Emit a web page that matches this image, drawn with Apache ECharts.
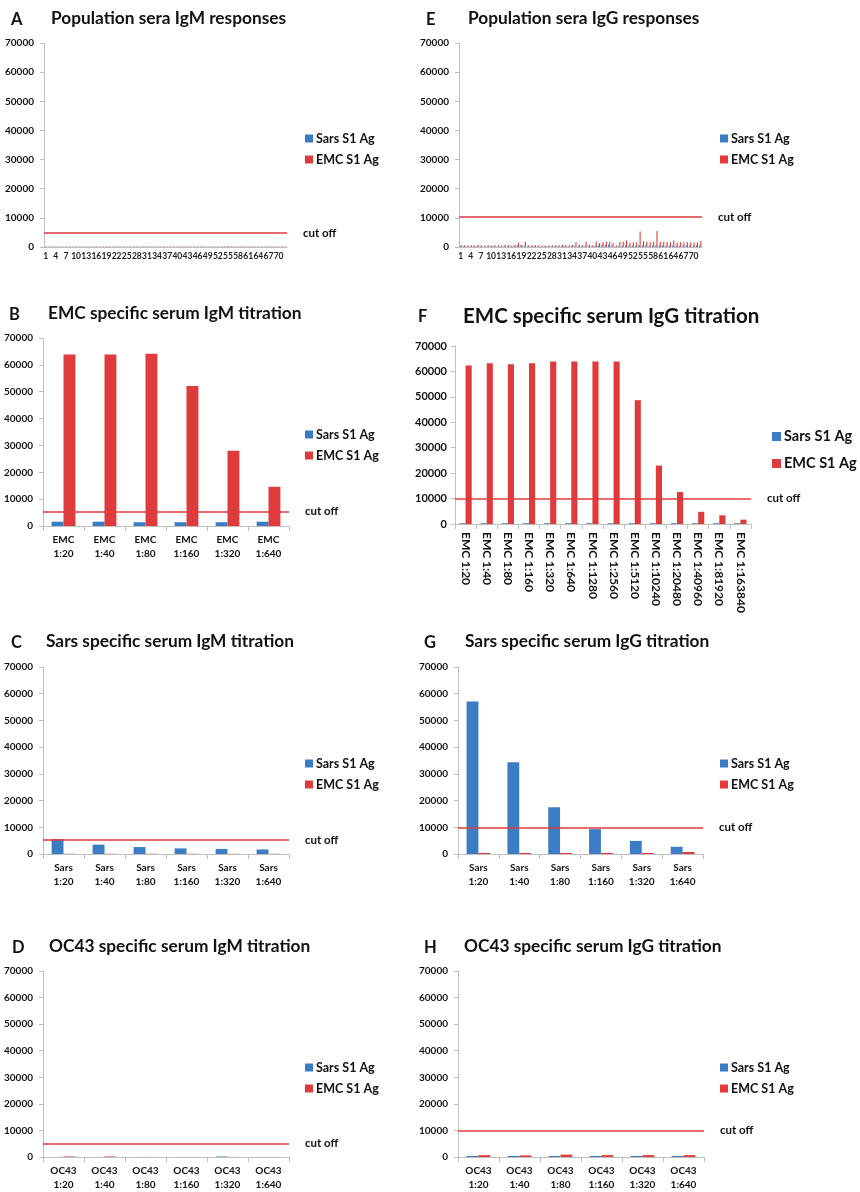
<!DOCTYPE html>
<html>
<head>
<meta charset="utf-8">
<script src="https://cdn.jsdelivr.net/npm/echarts@6/dist/echarts.min.js"></script>
<style>
  html, body { margin: 0; padding: 0; background: #fff; }
  #chart { width: 860px; height: 1192px; }
</style>
</head>
<body>
<div id="chart"></div>
<script>
// population sera, 72 samples
var popCats = ['1','2','3','4','5','6','7','8','9','10','11','12','13','14','15','16','17','18',
  '19','20','21','22','23','24','25','26','27','28','29','30','31','32','33','34','35','36',
  '37','38','39','40','41','42','43','44','45','46','47','48','49','50','51','52','53','54',
  '55','56','57','58','59','60','61','62','63','64','65','66','67','68','69','70','71','72'];

var igmPopSars = [150,120,150,130,140,120,150,130,120,140,150,130,120,140,130,150,120,140,
  130,150,120,140,130,150,120,140,130,150,120,140,130,150,120,140,130,150,
  120,140,130,150,120,140,130,150,120,140,130,150,120,140,130,150,120,140,
  130,150,120,140,130,150,120,140,130,150,120,140,130,150,120,140,130,150];
var igmPopEmc = [200,180,160,200,190,170,200,180,160,200,190,170,200,180,160,200,190,170,
  200,180,160,200,190,170,200,180,160,200,190,170,200,180,160,200,190,170,
  200,180,160,200,190,170,200,180,160,200,190,170,200,180,160,200,190,170,
  200,180,160,200,190,170,200,180,160,200,190,170,200,180,160,200,190,170];

var iggPopSars = [300,250,300,200,250,300,250,200,300,250,300,200,250,300,300,250,400,600,
  700,300,250,300,250,300,200,250,300,200,300,250,300,250,300,300,400,300,
  250,400,300,300,500,600,800,700,900,600,200,400,500,600,500,400,500,700,
  500,600,400,500,800,500,600,500,400,600,500,400,500,600,500,400,500,600];
var iggPopEmc = [700,600,500,600,500,800,500,500,600,500,700,600,500,900,600,500,700,1500,
  700,1800,600,700,600,600,500,400,500,600,700,600,800,700,600,700,1600,900,
  700,1800,800,600,1900,1400,1700,1900,1800,1500,500,1700,1800,2200,1500,1600,1600,5300,
  2000,1800,1700,1800,5500,1700,1800,1800,1600,2200,1500,1600,1600,1700,1600,1500,1600,2100];

// titration series
var emcIgmCats = ['EMC\n1:20','EMC\n1:40','EMC\n1:80','EMC\n1:160','EMC\n1:320','EMC\n1:640'];
var emcIgmSars = [1600,1600,1400,1400,1400,1600];
var emcIgmEmc = [63900,63900,64100,52100,28000,14600];

var emcIggCats = ['EMC 1:20','EMC 1:40','EMC 1:80','EMC 1:160','EMC 1:320','EMC 1:640','EMC 1:1280',
  'EMC 1:2560','EMC 1:5120','EMC 1:10240','EMC 1:20480','EMC 1:40960','EMC 1:81920','EMC 1:163840'];
var emcIggSars = [300,300,300,300,300,300,300,300,300,300,300,300,300,300];
var emcIggEmc = [62300,63200,62800,63200,63900,63900,63900,63900,48700,23000,12600,4800,3400,1700];

var sarsCats = ['Sars\n1:20','Sars\n1:40','Sars\n1:80','Sars\n1:160','Sars\n1:320','Sars\n1:640'];
var sarsIgmSars = [5600,3500,2600,2100,1900,1700];
var sarsIgmEmc = [80,80,80,80,80,80];
var sarsIggSars = [57100,34300,17500,9300,4900,2700];
var sarsIggEmc = [400,400,400,400,400,750];

var oc43Cats = ['OC43\n1:20','OC43\n1:40','OC43\n1:80','OC43\n1:160','OC43\n1:320','OC43\n1:640'];
var oc43IgmSars = [30,30,30,30,200,30];
var oc43IgmEmc = [200,200,30,30,30,30];
var oc43IggSars = [400,400,400,400,400,400];
var oc43IggEmc = [700,600,900,700,700,700];

// cut off per panel A..H
var cutoffs = [4800, 5300, 5200, 5100, 10300, 10000, 10000, 10000];
var letters = ['A','B','C','D','E','F','G','H'];
var titles = ['Population sera IgM responses', 'EMC specific serum IgM titration',
  'Sars specific serum IgM titration', 'OC43 specific serum IgM titration',
  'Population sera IgG responses', 'EMC specific serum IgG titration',
  'Sars specific serum IgG titration', 'OC43 specific serum IgG titration'];

var FONT = 'Lato';
var BLUE = '#3b7dc5';
var RED = '#e03b3c';
var AXIS = '#bfbfbf';

var panels = [
  {cats: popCats, sars: igmPopSars, emc: igmPopEmc, grid: [44, 43, 243, 204], leg: [305, 132], tY: 20, tX: [11, 51], pop: true},
  {cats: emcIgmCats, sars: emcIgmSars, emc: emcIgmEmc, grid: [43, 338, 246, 188], leg: [305, 428], tY: 315, tX: [9, 48]},
  {cats: sarsCats, sars: sarsIgmSars, emc: sarsIgmEmc, grid: [43, 667, 246, 187], leg: [305, 757], tY: 643, tX: [11, 46]},
  {cats: oc43Cats, sars: oc43IgmSars, emc: oc43IgmEmc, grid: [43, 971, 246, 187], leg: [305, 1061], tY: 948, tX: [12, 49]},
  {cats: popCats, sars: iggPopSars, emc: iggPopEmc, grid: [459, 43, 243, 204], leg: [720, 132], tY: 20, tX: [426, 468], pop: true},
  {cats: emcIggCats, sars: emcIggSars, emc: emcIggEmc, grid: [455, 346, 296, 178], leg: [772, 429], tY: 317, tX: [418, 463], big: true},
  {cats: sarsCats, sars: sarsIggSars, emc: sarsIggEmc, grid: [458, 667, 245, 187], leg: [720, 757], tY: 643, tX: [424, 465]},
  {cats: oc43Cats, sars: oc43IggSars, emc: oc43IggEmc, grid: [458, 971, 246, 187], leg: [720, 1061], tY: 948, tX: [424, 464]}
];

var grid = [], xAxis = [], yAxis = [], series = [], title = [], legend = [];

panels.forEach(function(p, i) {
  var tSize = p.big ? 20.5 : 17.3;
  title.push({
    text: letters[i], left: p.tX[0], top: p.tY - 9, padding: 0,
    textStyle: {fontFamily: FONT, fontSize: 16.5, fontWeight: 'bold', color: '#111'}
  });
  title.push({
    text: titles[i], left: p.tX[1], top: p.tY - tSize / 2 - 1, padding: 0,
    textStyle: {fontFamily: FONT, fontSize: tSize, fontWeight: 'bold', color: '#111'}
  });

  grid.push({left: p.grid[0], top: p.grid[1], width: p.grid[2], height: p.grid[3]});

  var xLabel;
  if (p.pop) {
    xLabel = {interval: 2, fontSize: 8.5, fontWeight: 'bold', color: '#222', fontFamily: FONT, margin: 5};
  } else if (p.big) {
    xLabel = {interval: 0, rotate: -90, fontSize: 12, fontWeight: 'bold', color: '#111', fontFamily: FONT, margin: 8};
  } else {
    xLabel = {interval: 0, fontSize: 10, lineHeight: 14, fontWeight: 'bold', color: '#111', fontFamily: FONT, margin: 7};
  }
  xAxis.push({
    type: 'category', gridIndex: i, data: p.cats,
    axisLine: {lineStyle: {color: AXIS}},
    axisTick: {show: !p.pop, length: 5, lineStyle: {color: AXIS}},
    axisLabel: xLabel
  });
  yAxis.push({
    type: 'value', gridIndex: i, min: 0, max: 70000, interval: 10000,
    axisLine: {show: true, lineStyle: {color: AXIS}},
    axisTick: {show: true, length: 4, lineStyle: {color: AXIS}},
    splitLine: {show: false},
    axisLabel: {
      fontSize: p.big ? 11 : 10, fontWeight: 'bold', color: '#111', fontFamily: FONT, margin: p.big ? 8 : 10,
      formatter: function(v) { return String(v); }
    }
  });

  var bw = p.pop ? '32%' : '29%';
  series.push({
    name: 'Sars S1 Ag', type: 'bar', xAxisIndex: i, yAxisIndex: i,
    data: p.sars, barWidth: bw, barGap: '0%', itemStyle: {color: BLUE}
  });
  series.push({
    name: 'EMC S1 Ag', type: 'bar', xAxisIndex: i, yAxisIndex: i,
    data: p.emc, barWidth: bw, barGap: '0%', itemStyle: {color: RED},
    markLine: {
      silent: true, symbol: 'none', precision: 0,
      itemStyle: {color: RED},
      lineStyle: {color: RED, type: 'solid', width: 1.6, opacity: 1},
      label: {
        position: 'end', distance: 16, formatter: 'cut off',
        fontFamily: FONT, fontSize: 11.5, fontWeight: 'bold', color: '#111'
      },
      data: [{yAxis: cutoffs[i], lineStyle: {color: RED}}]
    }
  });

  legend.push({
    orient: 'vertical', left: p.leg[0], top: p.leg[1], padding: 0,
    icon: 'rect', itemWidth: p.big ? 9 : 8, itemHeight: p.big ? 9 : 8,
    itemGap: p.big ? 12 : 8, selectedMode: false,
    data: ['Sars S1 Ag', 'EMC S1 Ag'],
    textStyle: {fontFamily: FONT, fontSize: p.big ? 14.5 : 12.5, fontWeight: 'bold', color: '#111', padding: [0, 0, 0, -2]}
  });
});

var chart = echarts.init(document.getElementById('chart'));
chart.setOption({
  animation: false,
  backgroundColor: '#fff',
  title: title,
  legend: legend,
  grid: grid,
  xAxis: xAxis,
  yAxis: yAxis,
  series: series
});
</script>
</body>
</html>
